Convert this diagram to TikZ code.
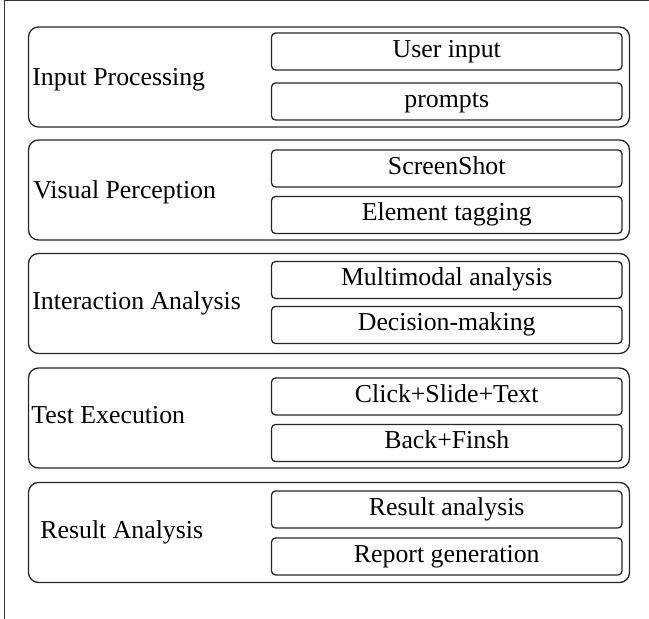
\documentclass[tikz,border=0pt]{standalone}
\usepackage{fontspec}
\setmainfont{Liberation Serif}
\usepackage{tikz}
\usetikzlibrary{positioning}

\begin{document}
\begin{tikzpicture}[
x=0.5pt,y=-0.5pt,
every node/.style={font=\fontsize{12.9}{15}\selectfont},
GroupBox/.style={draw=black!85,line width=0.65pt,rounded corners=5pt,
  minimum width=300.5pt,minimum height=50pt,inner sep=0pt},
StepBox/.style={draw=black!85,line width=0.65pt,rounded corners=2pt,
  minimum width=175.25pt,minimum height=18.5pt,inner sep=0pt,
  text height=8pt,text depth=2pt},
GroupLabel/.style={anchor=base west,inner sep=0pt}
]
\useasboundingbox (0,0) rectangle (649,619);

% outer frame (only left and top edges are visible)
\draw[line width=0.5pt,black!80] (4,619) -- (4,1) -- (649,1);

% Input Processing
\node[GroupBox] (InputGroup) at (329,77) {};
\node[GroupLabel] (InputLabel) at (32,86) {Input Processing};
\node[StepBox] (UserInput) at (446.75,51.5) {User input};
\node[StepBox] (Prompts) at (446.75,101.5) {prompts};

% Visual Perception
\node[GroupBox] (VisualGroup) at (329,190) {};
\node[GroupLabel] (VisualLabel) at (33,199) {Visual Perception};
\node[StepBox] (ScreenShot) at (446.75,168.5) {ScreenShot};
\node[StepBox] (Tagging) at (446.75,215) {Element tagging};

% Interaction Analysis
\node[GroupBox] (InteractGroup) at (329,303.5) {};
\node[GroupLabel] (InteractLabel) at (32,310) {Interaction Analysis};
\node[StepBox] (Multimodal) at (446.75,280) {Multimodal analysis};
\node[StepBox] (Decision) at (446.75,325) {Decision-making};

% Test Execution
\node[GroupBox] (ExecGroup) at (329,418) {};
\node[GroupLabel] (ExecLabel) at (31,424) {Test Execution};
\node[StepBox] (Actions) at (446.75,396.5) {Click+Slide+Text};
\node[StepBox] (BackFinish) at (446.75,443) {Back+Finsh};

% Result Analysis
\node[GroupBox] (ResultGroup) at (329,532.5) {};
\node[GroupLabel] (ResultLabel) at (40,539) {Result Analysis};
\node[StepBox] (ResultStep) at (446.75,509.5) {Result analysis};
\node[StepBox] (Report) at (446.75,556.5) {Report generation};

\end{tikzpicture}
\end{document}
